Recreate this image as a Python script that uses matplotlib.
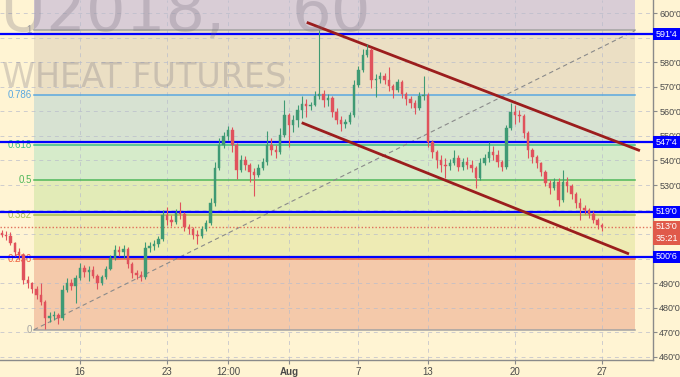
import numpy as np
import matplotlib
matplotlib.use("Agg")
import matplotlib.pyplot as plt
from matplotlib.patches import Rectangle

plt.rcParams['font.family'] = ['Liberation Sans', 'DejaVu Sans']

# ---------------- data ----------------
opens = [510.4, 509.6, 509.2, 506.4, 502.7, 501.4, 491.3, 490.0, 487.6, 485.2,
         482.3, 475.8, 476.6, 477.0, 475.8, 487.2, 490.0, 488.8, 492.1, 496.2,
         494.5, 495.3, 492.9, 490.0, 492.5, 495.8, 500.2, 503.5, 502.7, 503.9,
         497.8, 494.1, 493.3, 492.5, 504.3, 505.1, 505.9, 508.0, 517.8, 515.7,
         514.9, 518.6, 518.2, 512.9, 512.1, 509.6, 509.2, 512.1, 514.5, 522.7,
         536.9, 546.3, 550.0, 552.4, 546.3, 536.1, 540.2, 538.2, 535.3, 534.1,
         536.9, 539.4, 546.3, 544.3, 543.4, 550.4, 558.5, 554.5, 556.5, 560.6,
         563.0, 562.2, 562.6, 566.3, 567.1, 564.7, 565.5, 559.8, 556.5, 554.9,
         555.7, 558.5, 570.8, 576.9, 583.0, 585.0, 572.8, 573.2, 574.4, 572.8,
         570.4, 568.7, 572.0, 567.1, 565.1, 563.4, 561.4, 566.3, 566.7, 547.5,
         543.4, 540.2, 538.2, 537.7, 539.0, 541.0, 537.3, 539.4, 538.2, 536.9,
         532.9, 539.0, 541.0, 543.4, 542.2, 539.4, 537.3, 553.2, 559.8, 558.5,
         558.1, 551.2, 544.3, 541.4, 539.0, 535.3, 530.8, 528.8, 531.2, 523.9,
         531.2, 529.6, 526.3, 522.7, 520.6, 519.8, 518.2, 515.7, 513.7]
highs = [511.7, 511.2, 510.8, 506.8, 504.3, 502.3, 492.9, 490.4, 488.8, 490.0,
         483.1, 478.2, 478.6, 477.8, 489.2, 492.1, 491.7, 493.3, 498.2, 497.4,
         497.0, 497.0, 493.7, 493.3, 497.0, 501.4, 505.5, 505.1, 505.5, 504.7,
         498.6, 495.3, 494.9, 506.8, 506.8, 507.6, 509.2, 519.8, 521.0, 517.8,
         520.2, 523.1, 519.0, 514.1, 512.9, 511.7, 513.3, 515.7, 524.7, 539.4,
         549.2, 551.6, 554.1, 553.6, 547.1, 542.2, 541.8, 539.0, 536.9, 538.6,
         541.0, 552.0, 549.2, 546.3, 553.2, 564.7, 559.4, 558.5, 562.6, 566.3,
         565.1, 563.8, 568.3, 593.2, 568.7, 567.1, 566.3, 561.4, 558.1, 556.9,
         559.8, 572.8, 578.5, 585.4, 587.5, 585.9, 575.3, 576.1, 575.7, 578.1,
         571.2, 573.2, 572.8, 567.9, 566.3, 564.7, 567.9, 574.4, 567.5, 548.4,
         544.3, 542.2, 541.0, 540.6, 544.3, 542.2, 541.0, 541.4, 540.2, 537.7,
         541.0, 542.6, 547.5, 545.9, 544.3, 540.2, 554.5, 563.4, 562.6, 560.6,
         558.9, 552.0, 545.1, 542.2, 539.4, 536.1, 532.0, 532.9, 532.9, 536.1,
         533.3, 530.4, 527.1, 524.7, 521.9, 520.6, 519.4, 516.5, 514.5]
lows = [508.8, 507.6, 505.5, 501.0, 499.4, 489.6, 488.0, 485.9, 483.5, 481.1,
        471.3, 474.1, 475.0, 473.3, 475.0, 486.4, 487.2, 481.9, 491.3, 492.5,
        490.9, 492.1, 487.6, 489.2, 491.7, 495.3, 499.4, 501.0, 500.2, 496.2,
        492.1, 491.7, 490.9, 491.7, 502.7, 503.5, 504.7, 507.2, 513.7, 513.3,
        514.1, 516.1, 511.2, 510.0, 508.0, 505.9, 508.4, 511.2, 513.7, 521.4,
        536.1, 545.1, 548.4, 543.4, 532.4, 535.3, 536.1, 531.2, 525.5, 533.3,
        536.1, 538.2, 542.2, 541.0, 542.6, 549.6, 545.5, 551.6, 553.6, 557.3,
        557.7, 560.6, 562.2, 565.1, 561.8, 562.2, 557.7, 554.9, 552.0, 553.2,
        554.9, 557.7, 569.9, 576.1, 582.2, 569.5, 565.9, 571.6, 571.2, 568.3,
        565.5, 567.9, 565.5, 562.6, 561.4, 558.9, 560.6, 564.7, 545.5, 541.0,
        536.9, 535.3, 532.9, 536.1, 538.2, 535.7, 536.1, 536.5, 535.3, 528.8,
        532.0, 538.2, 539.4, 540.2, 537.3, 535.7, 536.5, 552.4, 554.9, 555.7,
        549.2, 541.0, 539.0, 536.9, 533.7, 529.6, 526.3, 527.9, 521.4, 523.1,
        527.1, 524.3, 520.6, 515.7, 518.2, 516.5, 514.5, 512.1, 511.2]
closes = [509.6, 509.2, 506.4, 502.7, 501.4, 491.3, 490.0, 487.6, 485.2, 482.3,
          475.8, 476.6, 477.0, 475.8, 487.2, 490.0, 488.8, 492.1, 496.2, 494.5,
          495.3, 492.9, 490.0, 492.5, 495.8, 500.2, 503.5, 502.7, 503.9, 497.8,
          494.1, 493.3, 492.5, 504.3, 505.1, 505.9, 508.0, 517.8, 515.7, 514.9,
          518.6, 518.2, 512.9, 512.1, 509.6, 509.2, 512.1, 514.5, 522.7, 536.9,
          546.3, 550.0, 552.4, 546.3, 536.1, 540.2, 538.2, 535.3, 534.1, 536.9,
          539.4, 546.3, 544.3, 543.4, 550.4, 558.5, 554.5, 556.5, 560.6, 563.0,
          562.2, 562.6, 566.3, 567.1, 564.7, 565.5, 559.8, 556.5, 554.9, 555.7,
          558.5, 570.8, 576.9, 583.0, 585.0, 572.8, 573.2, 574.4, 572.8, 570.4,
          568.7, 572.0, 567.1, 565.1, 563.4, 561.4, 566.3, 566.7, 547.5, 543.4,
          540.2, 538.2, 537.7, 539.0, 541.0, 537.3, 539.4, 538.2, 536.9, 532.9,
          539.0, 541.0, 543.4, 542.2, 539.4, 537.3, 553.2, 559.8, 558.5, 558.1,
          551.2, 544.3, 541.4, 539.0, 535.3, 530.8, 528.8, 531.2, 523.9, 531.2,
          529.6, 526.3, 522.7, 520.6, 519.8, 518.2, 515.7, 513.7, 513.0]

first_bar_day = -4.5      # trading days relative to Jul 16
bar_step_day = 0.25

date_ticks = [0, 5, 8.5, 12, 16, 20, 25, 30]
date_labels = ['16', '23', '12:00', 'Aug', '7', '13', '20', '27']
price_ticks = list(range(460, 601, 10))
price_labels = [f"{p}'0" for p in price_ticks]
hidden_price_ticks = [590, 520, 510, 500]   # covered by the level boxes

fib_low, fib_high = 471.0, 593.0
fib_start, fib_end = -2.65, 31.9
fib_levels = [0, 0.236, 0.382, 0.5, 0.618, 0.786, 1]
fib_names = ['0', '0.236', '0.382', '0.5', '0.618', '0.786', '1']
fib_line_colors = ['#a3a3a3', '#f0623f', '#a8be50', '#4fb85a', '#3cbf86', '#5aa8e0', '#a3a3a3']
fib_band_colors = ['#f4c9aa', '#eeebb4', '#e2ebb7', '#d6ebca', '#d7e2d2', '#ebdfc4', '#d9cdd6']

key_levels = [591.5, 547.5, 519.0, 500.75]
key_labels = ["591'4", "547'4", "519'0", "500'6"]
last_price = 513.0
last_label = "513'0"
countdown = "35:21"

upper_channel = ([13.03, 32.18], [596.3, 544.0])
lower_channel = ([12.74, 31.55], [555.4, 501.9])

# ---------------- figure ----------------
W, H = 680, 377
bg = '#fff4d3'
fig = plt.figure(figsize=(W / 100, H / 100), dpi=100)
fig.patch.set_facecolor(bg)
ax = fig.add_axes([0, 17 / H, 653 / W, 360 / H])
ax.set_facecolor(bg)
ax.set_xlim(-4.6, 32.93)
ax.set_ylim(458.66, 605.42)

# fib bands
rng = fib_high - fib_low
band_edges = [fib_low + f * rng for f in fib_levels] + [fib_low + 1.618 * rng]
for i, col in enumerate(fib_band_colors):
    ax.fill_between([fib_start, fib_end], band_edges[i], band_edges[i + 1],
                    color=col, lw=0, zorder=1)

# grid
for t in date_ticks:
    ax.axvline(t, color='#b9bccb', lw=0.7, ls=(0, (4, 4)), alpha=0.7, zorder=1.5)
for p in price_ticks:
    ax.axhline(p, color='#b9bccb', lw=0.7, ls=(0, (4, 4)), alpha=0.7, zorder=1.5)

# watermark
fig.text(225 / W, 1 - 31 / H, 'ZWU2018,', ha='right', va='baseline', fontsize=45,
         family='DejaVu Sans', color='#6e6878', alpha=0.26, zorder=0.5)
fig.text(292 / W, 1 - 31 / H, '60', ha='left', va='baseline', fontsize=45,
         family='DejaVu Sans', color='#6e6878', alpha=0.26, zorder=0.5)
fig.text(286 / W, 1 - 87 / H, 'WHEAT FUTURES', ha='right', va='baseline', fontsize=24,
         family='DejaVu Sans', color='#6e6878', alpha=0.26, zorder=0.5)

# fib lines and labels
for f, name, col in zip(fib_levels, fib_names, fib_line_colors):
    lvl = fib_low + f * rng
    ax.plot([fib_start, fib_end], [lvl, lvl], color=col, lw=1.1, zorder=2)
    ax.text(fib_start - 0.12, lvl, name, ha='right', va='center', fontsize=7,
            color=col, zorder=2)

# fib trend line
ax.plot([fib_start, fib_end], [fib_low, fib_high], color='#8a8a8a', lw=0.8,
        ls=(0, (4, 3)), zorder=2.5)

# key horizontal levels
for lvl in key_levels:
    ax.axhline(lvl, color='#0000ff', lw=1.6, zorder=3)

# last price dotted line
ax.axhline(last_price, color='#e0705c', lw=1.0, ls=(0, (1, 1.5)), zorder=3)

# channel lines
ax.plot(*upper_channel, color='#9b1d1d', lw=2.0, solid_capstyle='butt', zorder=4)
ax.plot(*lower_channel, color='#9b1d1d', lw=2.0, solid_capstyle='butt', zorder=4)

# candles
o = np.array(opens); h = np.array(highs); l = np.array(lows); c = np.array(closes)
days = first_bar_day + bar_step_day * np.arange(len(c))
up = c >= o
cols = np.where(up, '#3f9a74', '#e0525c')
ax.vlines(days, l, h, colors=cols, lw=0.8, zorder=5)
ax.bar(days, np.maximum(np.abs(c - o), 0.35), bottom=np.minimum(o, c), width=0.14,
       color=cols, edgecolor=cols, lw=0.3, zorder=6)

# axes styling
for s in ['top', 'left']:
    ax.spines[s].set_visible(False)
for s in ['right', 'bottom']:
    ax.spines[s].set_color('#8a8a8a')
    ax.spines[s].set_linewidth(1.0)
ax.yaxis.tick_right()
ax.set_yticks(price_ticks)
ax.set_yticklabels(['' if p in hidden_price_ticks else lab
                    for p, lab in zip(price_ticks, price_labels)])
ax.tick_params(axis='y', length=3, color='#8a8a8a', labelsize=6.5, labelcolor='#4a4a4a', pad=1.5)
ax.set_xticks(date_ticks)
ax.set_xticklabels(date_labels)
ax.tick_params(axis='x', length=3, color='#8a8a8a', labelsize=7, labelcolor='#4a4a4a', pad=2)
for lab in ax.get_xticklabels():
    if lab.get_text() == 'Aug':
        lab.set_fontweight('bold')

# right-axis price boxes
fig.canvas.draw()
def box(level, text, color, dy=0.0):
    y = ax.transData.transform((0, level))[1] + dy
    fig.add_artist(Rectangle((653 / W, (y - 6) / H), 27 / W, 12 / H,
                             transform=fig.transFigure, facecolor=color,
                             edgecolor='none', zorder=10))
    fig.text(666.5 / W, y / H, text, ha='center', va='center', fontsize=6.5,
             color='white', zorder=11)

for lvl, lab in zip(key_levels, key_labels):
    box(lvl, lab, '#0000ff')
box(last_price, last_label, '#e0594a')
box(last_price, countdown, '#e0594a', dy=-12)

fig.savefig('out.png', dpi=100, facecolor=bg)
